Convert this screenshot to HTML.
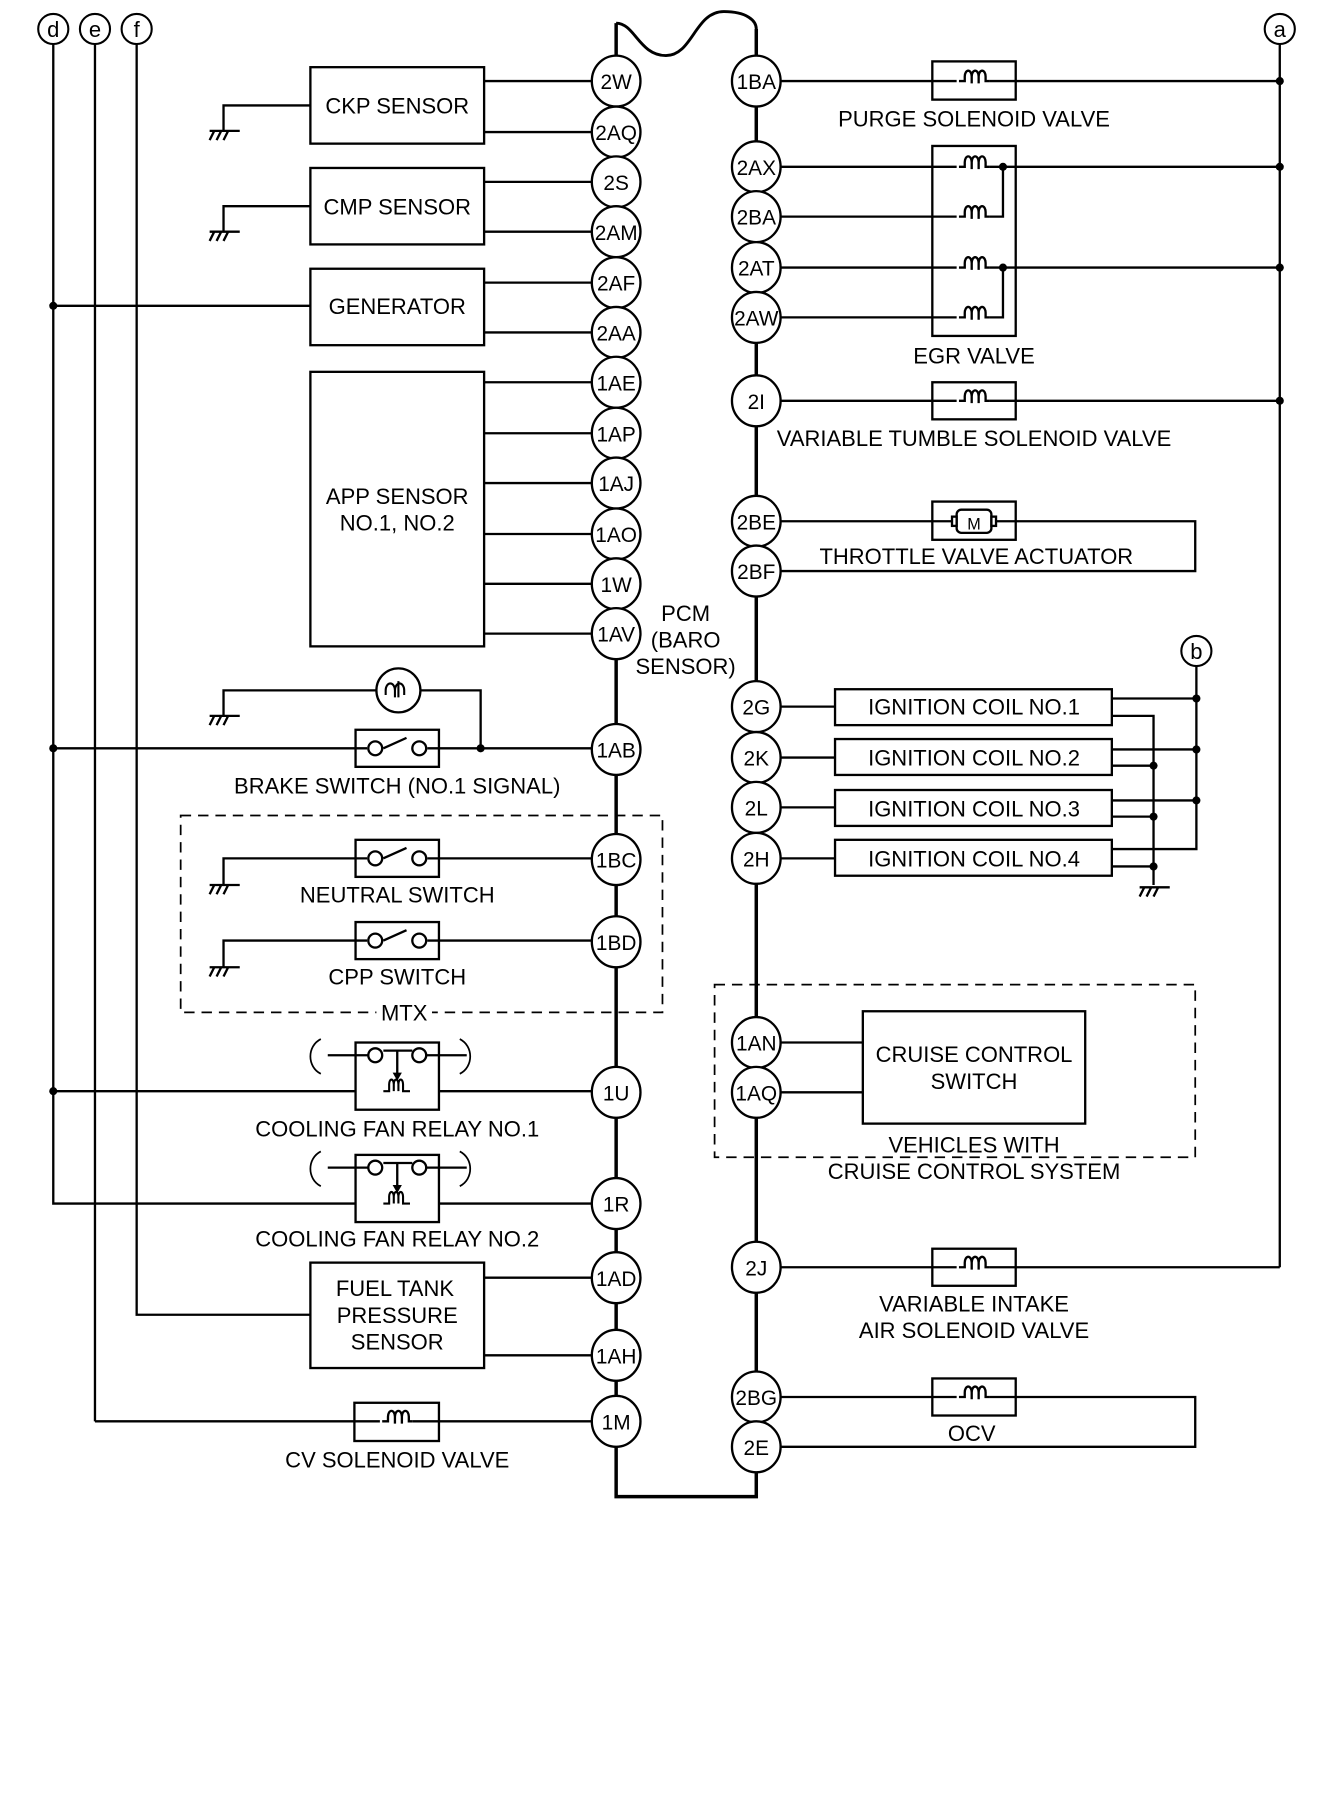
<!DOCTYPE html>
<html><head><meta charset="utf-8"><style>
html,body{margin:0;padding:0;background:#fff;}
svg{display:block;}
text{font-family:"Liberation Sans",sans-serif;font-size:19px;fill:#000;}
.p{font-size:18px;text-anchor:middle;}
.c{text-anchor:middle;}
</style></head><body>
<svg width="1340" height="1814" viewBox="0 0 1157 1566" preserveAspectRatio="none" xmlns="http://www.w3.org/2000/svg">
<defs>
<g id="gnd"><path d="M-12 0 H14 M-8 0 l-4 8 M-2 0 l-4 8 M4 0 l-4 8" stroke="#000" stroke-width="2" fill="none"/></g>
<g id="coil"><path d="M-12 0 h5 v-4 a3 5 0 0 1 6 0 v6 M-1 -4 a3 5 0 0 1 6 0 v6 M5 -4 a3 5 0 0 1 6 0 v4 h3" stroke="#000" stroke-width="2" fill="none"/></g>
<g id="sw"><rect x="-36" y="-16" width="72" height="32" fill="#fff" stroke="#000" stroke-width="2"/><path d="M-36 0 h10 M36 0 h-10 M-12 0 l20 -9" stroke="#000" stroke-width="2"/><circle cx="-19" cy="0" r="6" fill="#fff" stroke="#000" stroke-width="2"/><circle cx="19" cy="0" r="6" fill="#fff" stroke="#000" stroke-width="2"/></g>
<g id="relay"><rect x="-36" y="-42" width="72" height="58" fill="#fff" stroke="#000" stroke-width="2"/><path d="M-60 -31 H-25 M60 -31 H25 M-12 -35 H13 M0 -35 V-14" stroke="#000" stroke-width="2" fill="none"/><path d="M-4 -16 L4 -16 L0 -9 Z" fill="#000"/><circle cx="-19" cy="-31" r="6" fill="#fff" stroke="#000" stroke-width="2"/><circle cx="19" cy="-31" r="6" fill="#fff" stroke="#000" stroke-width="2"/><path d="M-12 0 h5 v-6 a2 4 0 0 1 4 0 v6 M-3 -6 a2 4 0 0 1 4 0 v6 M1 -6 a2 4 0 0 1 4 0 v6 h6" stroke="#000" stroke-width="1.8" fill="none"/><path d="M-60 -45 c-12 6 -12 24 0 30 M60 -45 c12 6 12 24 0 30" stroke="#000" stroke-width="1.5" fill="none" transform="translate(-6,0)"/></g>
</defs>
<g stroke="#000" stroke-width="2" fill="none">
<path d="M532 20 V1292 H653 V25" stroke-width="3"/>
<path d="M532 20 C548 20 552 48 575 48 C598 48 600 10 625 10 C645 10 653 18 653 25" stroke-width="2.5"/>
<path d="M46 38 V1039 H511 M82 38 V1227 M118 38 V1135 H268"/>
<path d="M1105 38 V1094 M1033 575 V733 H960"/>
<rect x="268" y="58" width="150" height="66"/>
<path d="M418 70 H511 M418 114 H511 M268 91 H193 V113"/>
<rect x="268" y="145" width="150" height="66"/>
<path d="M418 157 H511 M418 200 H511 M268 178 H193 V200"/>
<rect x="268" y="232" width="150" height="66"/>
<path d="M418 244 H511 M418 287 H511 M46 264 H268"/>
<rect x="268" y="321" width="150" height="237"/>
<path d="M418 330 H511 M418 374 H511 M418 417 H511 M418 461 H511 M418 504 H511 M418 547 H511"/>
<path d="M193 618 V596 H325 M363 596 H415 V646 M46 646 H511"/>
<circle cx="344" cy="596" r="19"/>
<rect x="156" y="704" width="416" height="170" stroke-dasharray="9,6" stroke-width="1.5"/>
<path d="M193 764 V741 H511 M193 835 V812 H511"/>
<path d="M46 942 H511 M82 1227 H511"/>
<rect x="268" y="1090" width="150" height="91"/>
<path d="M418 1103 H511 M418 1170 H511"/>
<path d="M674 70 H1105 M674 144 H1105 M674 187 H840 M674 231 H1105 M674 274 H840 M674 346 H1105"/>
<path d="M866 144 V187 H850 M866 231 V274 H850"/>
<path d="M674 450 H1032 V493 H674"/>
<path d="M674 610 H721 M674 654 H721 M674 697 H721 M674 741 H721"/>
<path d="M960 603 H1033 M960 647 H1033 M960 691 H1033 M960 618 H996 V764 M960 661 H996 M960 705 H996 M960 748 H996"/>
<rect x="617" y="850" width="415" height="149" stroke-dasharray="9,6" stroke-width="1.5"/>
<rect x="745" y="873" width="192" height="97"/>
<path d="M674 900 H745 M674 943 H745"/>
<path d="M674 1094 H1105 M674 1206 H1032 V1249 H674"/>
</g>
<use href="#gnd" x="193" y="113"/><use href="#gnd" x="193" y="200"/><use href="#gnd" x="193" y="618"/>
<use href="#gnd" x="193" y="764"/><use href="#gnd" x="193" y="835"/><use href="#gnd" x="996" y="766"/>
<g fill="#fff" stroke="#000" stroke-width="2">
<rect x="805" y="53" width="72" height="33"/>
<rect x="805" y="126" width="72" height="164" fill="none"/>
<rect x="805" y="330" width="72" height="32"/>
<rect x="805" y="433" width="72" height="33"/>
<rect x="805" y="1078" width="72" height="32"/>
<rect x="805" y="1190" width="72" height="32"/>
<rect x="306" y="1211" width="73" height="33"/>
<rect x="721" y="595" width="239" height="31"/><rect x="721" y="638" width="239" height="31"/>
<rect x="721" y="682" width="239" height="31"/><rect x="721" y="725" width="239" height="31"/>
</g>
<g stroke="#000" stroke-width="2"><path d="M805 70 H877 M805 346 H877 M805 1094 H877 M805 1206 H877 M306 1227 H379 M805 450 H877"/></g>
<g fill="#fff" stroke="none"><rect x="826" y="60" width="28" height="14"/><rect x="826" y="134" width="28" height="14"/><rect x="826" y="177" width="28" height="14"/><rect x="826" y="221" width="28" height="14"/><rect x="826" y="264" width="28" height="14"/><rect x="826" y="336" width="28" height="14"/><rect x="826" y="1084" width="28" height="14"/><rect x="826" y="1196" width="28" height="14"/><rect x="328" y="1217" width="28" height="14"/></g>
<use href="#coil" x="840" y="70"/><use href="#coil" x="840" y="144"/><use href="#coil" x="840" y="187"/><use href="#coil" x="840" y="231"/><use href="#coil" x="840" y="274"/><use href="#coil" x="840" y="346"/><use href="#coil" x="840" y="1094"/><use href="#coil" x="840" y="1206"/><use href="#coil" x="342" y="1227"/>
<g stroke="#000" stroke-width="2" fill="#fff"><rect x="826" y="440" width="30" height="20" rx="4"/><rect x="822" y="446" width="4" height="8"/><rect x="856" y="446" width="4" height="8"/></g>
<text x="841" y="457" class="c" style="font-size:14px">M</text>
<use href="#sw" x="343" y="646"/><use href="#sw" x="343" y="741"/><use href="#sw" x="343" y="812"/>
<use href="#relay" x="343" y="942"/><use href="#relay" x="343" y="1039"/>
<path d="M333 600 v-4 a4 6 0 0 1 8 0 v6 M341 596 a4 6 0 0 1 8 0 v4 M344 588 v14" stroke="#000" stroke-width="1.8" fill="none"/>
<g fill="#000"><circle cx="46" cy="264" r="3.5"/><circle cx="46" cy="646" r="3.5"/><circle cx="46" cy="942" r="3.5"/><circle cx="415" cy="646" r="3.5"/>
<circle cx="1105" cy="70" r="3.5"/><circle cx="1105" cy="144" r="3.5"/><circle cx="1105" cy="231" r="3.5"/><circle cx="1105" cy="346" r="3.5"/>
<circle cx="866" cy="144" r="3.5"/><circle cx="866" cy="231" r="3.5"/>
<circle cx="1033" cy="603" r="3.5"/><circle cx="1033" cy="647" r="3.5"/><circle cx="1033" cy="691" r="3.5"/>
<circle cx="996" cy="661" r="3.5"/><circle cx="996" cy="705" r="3.5"/><circle cx="996" cy="748" r="3.5"/></g>
<g fill="#fff" stroke="#000" stroke-width="1.8"><circle cx="46" cy="25" r="13"/><circle cx="82" cy="25" r="13"/><circle cx="118" cy="25" r="13"/><circle cx="1105" cy="25" r="13"/><circle cx="1033" cy="562" r="13"/></g>
<text x="46" y="32" class="c">d</text><text x="82" y="32" class="c">e</text><text x="118" y="32" class="c">f</text><text x="1105" y="32" class="c">a</text><text x="1033" y="569" class="c">b</text>
<g fill="#fff" stroke="#000" stroke-width="2">
<ellipse cx="532" cy="70" rx="21" ry="22"/><ellipse cx="532" cy="114" rx="21" ry="22"/><ellipse cx="532" cy="157" rx="21" ry="22"/><ellipse cx="532" cy="200" rx="21" ry="22"/><ellipse cx="532" cy="244" rx="21" ry="22"/><ellipse cx="532" cy="287" rx="21" ry="22"/><ellipse cx="532" cy="330" rx="21" ry="22"/><ellipse cx="532" cy="374" rx="21" ry="22"/><ellipse cx="532" cy="417" rx="21" ry="22"/><ellipse cx="532" cy="461" rx="21" ry="22"/><ellipse cx="532" cy="504" rx="21" ry="22"/><ellipse cx="532" cy="547" rx="21" ry="22"/><ellipse cx="532" cy="647" rx="21" ry="22"/><ellipse cx="532" cy="742" rx="21" ry="22"/><ellipse cx="532" cy="813" rx="21" ry="22"/><ellipse cx="532" cy="943" rx="21" ry="22"/><ellipse cx="532" cy="1039" rx="21" ry="22"/><ellipse cx="532" cy="1103" rx="21" ry="22"/><ellipse cx="532" cy="1170" rx="21" ry="22"/><ellipse cx="532" cy="1227" rx="21" ry="22"/>
<ellipse cx="653" cy="70" rx="21" ry="22"/><ellipse cx="653" cy="144" rx="21" ry="22"/><ellipse cx="653" cy="187" rx="21" ry="22"/><ellipse cx="653" cy="231" rx="21" ry="22"/><ellipse cx="653" cy="274" rx="21" ry="22"/><ellipse cx="653" cy="346" rx="21" ry="22"/><ellipse cx="653" cy="450" rx="21" ry="22"/><ellipse cx="653" cy="493" rx="21" ry="22"/><ellipse cx="653" cy="610" rx="21" ry="22"/><ellipse cx="653" cy="654" rx="21" ry="22"/><ellipse cx="653" cy="697" rx="21" ry="22"/><ellipse cx="653" cy="741" rx="21" ry="22"/><ellipse cx="653" cy="900" rx="21" ry="22"/><ellipse cx="653" cy="943" rx="21" ry="22"/><ellipse cx="653" cy="1094" rx="21" ry="22"/><ellipse cx="653" cy="1206" rx="21" ry="22"/><ellipse cx="653" cy="1249" rx="21" ry="22"/>
</g>
<g>
<text x="532" y="77" class="p">2W</text><text x="532" y="121" class="p">2AQ</text><text x="532" y="164" class="p">2S</text><text x="532" y="207" class="p">2AM</text><text x="532" y="251" class="p">2AF</text><text x="532" y="294" class="p">2AA</text><text x="532" y="337" class="p">1AE</text><text x="532" y="381" class="p">1AP</text><text x="532" y="424" class="p">1AJ</text><text x="532" y="468" class="p">1AO</text><text x="532" y="511" class="p">1W</text><text x="532" y="554" class="p">1AV</text><text x="532" y="654" class="p">1AB</text><text x="532" y="749" class="p">1BC</text><text x="532" y="820" class="p">1BD</text><text x="532" y="950" class="p">1U</text><text x="532" y="1046" class="p">1R</text><text x="532" y="1110" class="p">1AD</text><text x="532" y="1177" class="p">1AH</text><text x="532" y="1234" class="p">1M</text>
<text x="653" y="77" class="p">1BA</text><text x="653" y="151" class="p">2AX</text><text x="653" y="194" class="p">2BA</text><text x="653" y="238" class="p">2AT</text><text x="653" y="281" class="p">2AW</text><text x="653" y="353" class="p">2I</text><text x="653" y="457" class="p">2BE</text><text x="653" y="500" class="p">2BF</text><text x="653" y="617" class="p">2G</text><text x="653" y="661" class="p">2K</text><text x="653" y="704" class="p">2L</text><text x="653" y="748" class="p">2H</text><text x="653" y="907" class="p">1AN</text><text x="653" y="950" class="p">1AQ</text><text x="653" y="1101" class="p">2J</text><text x="653" y="1213" class="p">2BG</text><text x="653" y="1256" class="p">2E</text>
</g>
<g>
<text x="343" y="98" class="c">CKP SENSOR</text>
<text x="343" y="185" class="c">CMP SENSOR</text>
<text x="343" y="271" class="c">GENERATOR</text>
<text x="343" y="435" class="c">APP SENSOR</text>
<text x="343" y="458" class="c">NO.1, NO.2</text>
<text x="343" y="685" class="c">BRAKE SWITCH (NO.1 SIGNAL)</text>
<text x="343" y="779" class="c">NEUTRAL SWITCH</text>
<text x="343" y="850" class="c">CPP SWITCH</text>
<rect x="325" y="864" width="48" height="20" fill="#fff"/>
<text x="349" y="881" class="c">MTX</text>
<text x="343" y="981" class="c">COOLING FAN RELAY NO.1</text>
<text x="343" y="1076" class="c">COOLING FAN RELAY NO.2</text>
<text x="341" y="1119" class="c">FUEL TANK</text>
<text x="343" y="1142" class="c">PRESSURE</text>
<text x="343" y="1165" class="c">SENSOR</text>
<text x="343" y="1267" class="c">CV SOLENOID VALVE</text>
<text x="592" y="536" class="c">PCM</text>
<text x="592" y="559" class="c">(BARO</text>
<text x="592" y="582" class="c">SENSOR)</text>
<text x="841" y="109" class="c">PURGE SOLENOID VALVE</text>
<text x="841" y="314" class="c">EGR VALVE</text>
<text x="841" y="385" class="c">VARIABLE TUMBLE SOLENOID VALVE</text>
<text x="843" y="487" class="c">THROTTLE VALVE ACTUATOR</text>
<text x="841" y="617" class="c">IGNITION COIL NO.1</text>
<text x="841" y="661" class="c">IGNITION COIL NO.2</text>
<text x="841" y="705" class="c">IGNITION COIL NO.3</text>
<text x="841" y="748" class="c">IGNITION COIL NO.4</text>
<text x="841" y="917" class="c">CRUISE CONTROL</text>
<text x="841" y="940" class="c">SWITCH</text>
<text x="841" y="995" class="c">VEHICLES WITH</text>
<text x="841" y="1018" class="c">CRUISE CONTROL SYSTEM</text>
<text x="841" y="1132" class="c">VARIABLE INTAKE</text>
<text x="841" y="1155" class="c">AIR SOLENOID VALVE</text>
<text x="839" y="1244" class="c">OCV</text>
</g>
</svg>
</body></html>
